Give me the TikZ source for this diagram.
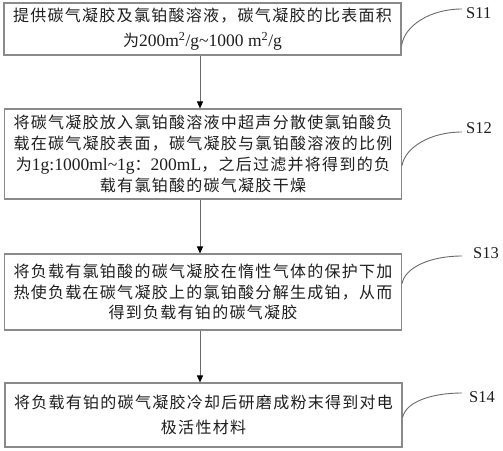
\documentclass[tikz,border=0pt]{standalone}
\usepackage{fontspec}
\setmainfont{Liberation Serif}
\newfontfamily\cjk[LetterSpace=8]{Noto Sans CJK SC}
\newfontfamily\latf{Liberation Serif}
\usetikzlibrary{arrows.meta}
\newcommand\latn[1]{{\latf\fontsize{17.5}{21}\selectfont #1}}
\definecolor{boxgray}{HTML}{8A8A8A}
\definecolor{linegray}{HTML}{6A6A6A}
\definecolor{txt}{HTML}{1E1E1E}
\begin{document}
\begin{tikzpicture}[x=1pt,y=-1pt,
  stepbox/.style={draw=boxgray, line width=1.1pt, minimum width=397pt,
    inner sep=0pt, align=center, text=txt},
  wide/.style={font=\cjk\fontsize{16}{25}\selectfont},
  tight/.style={font=\cjk\fontsize{16}{20.8}\selectfont},
  flow/.style={draw=linegray, line width=0.9pt,
    -{Triangle[length=7pt,width=6pt,fill=black,color=black]}},
  lead/.style={draw=linegray, line width=0.9pt},
  lbl/.style={font=\latf\fontsize{16.5}{18}\selectfont, text=txt, inner sep=0pt, anchor=west}]
\useasboundingbox (0,0) rectangle (503,450);

\node[stepbox, wide, minimum height=52pt] (b1) at (202.5,29)
  {提供碳气凝胶及氯铂酸溶液，碳气凝胶的比表面积\\
   为\latn{200m\textsuperscript{2}/g\textasciitilde1000 m\textsuperscript{2}/g}};
\node[stepbox, tight, minimum height=90pt] (b2) at (203,154)
  {将碳气凝胶放入氯铂酸溶液中超声分散使氯铂酸负\\
   载在碳气凝胶表面，碳气凝胶与氯铂酸溶液的比例\\
   为\latn{1g:1000ml\textasciitilde1g}：\latn{200mL}，之后过滤并将得到的负\\
   载有氯铂酸的碳气凝胶干燥};
\node[stepbox, tight, minimum height=76pt] (b3) at (203,292)
  {将负载有氯铂酸的碳气凝胶在惰性气体的保护下加\\
   热使负载在碳气凝胶上的氯铂酸分解生成铂，从而\\
   得到负载有铂的碳气凝胶};
\node[stepbox, wide, minimum height=64pt] (b4) at (203.5,415)
  {将负载有铂的碳气凝胶冷却后研磨成粉末得到对电\\
   极活性材料};

\draw[flow] ([xshift=-2.5pt]b1.south) -- ([xshift=-3pt]b2.north);
\draw[flow] ([xshift=-3pt]b2.south) -- ([xshift=-3pt]b3.north);
\draw[flow] ([xshift=-3pt]b3.south) -- ([xshift=-3.5pt]b4.north);

\node[lbl] (s11) at (466,13) {S11};
\node[lbl] (s12) at (466,128) {S12};
\node[lbl] (s13) at (473,253) {S13};
\node[lbl] (s14) at (469,397) {S14};

\coordinate (e1) at (462,9);
\coordinate (e2) at (462,132);
\coordinate (e3) at (462,256);
\coordinate (e4) at (462,393);

\draw[lead] ([yshift=10pt]b1.south east) .. controls +(3,-20) and +(-32,0) .. (e1);
\draw[lead] ([yshift=34pt]b2.south east) .. controls +(3,-18) and +(-32,0) .. (e2);
\draw[lead] ([yshift=47pt]b3.south east) .. controls +(3,-16) and +(-32,0) .. (e3);
\draw[lead] ([yshift=30pt]b4.south east) .. controls +(3,-15) and +(-32,0) .. (e4);
\end{tikzpicture}
\end{document}
